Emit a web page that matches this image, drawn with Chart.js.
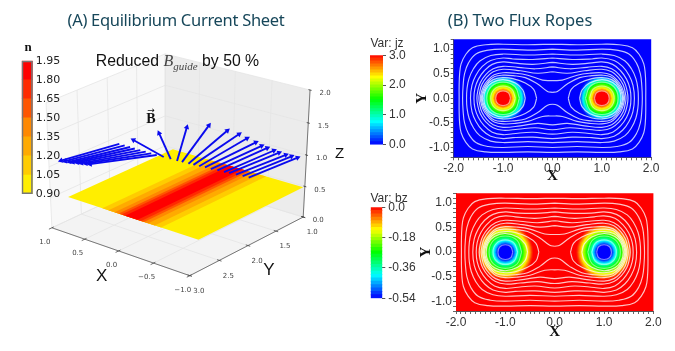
<!DOCTYPE html>
<html><head><meta charset="utf-8">
<script src="https://cdn.jsdelivr.net/npm/chart.js@4"></script>
<style>
html,body{margin:0;padding:0;background:#fff;width:675px;height:351px;overflow:hidden}
#page{position:absolute;left:0;top:0;width:675px;height:351px;filter:blur(0.35px)}
canvas{position:absolute}
.t{position:absolute;white-space:nowrap;transform:translate(-50%,-50%);line-height:1}
.title{font:16.5px "Noto Sans",sans-serif;color:#17475a}
.var{font:12px "Liberation Sans",sans-serif;color:#333;transform:translate(0,-50%)}
.bold{font:bold 13px "Liberation Serif",serif;color:#111}
</style></head><body><div id="page">
<canvas id="c3d" width="360" height="351" style="left:0;top:0"></canvas>
<canvas id="cbN" width="55" height="155" style="left:21px;top:50px"></canvas>
<canvas id="cbJ" width="50" height="110" style="left:370px;top:45px"></canvas>
<canvas id="cbB" width="60" height="112" style="left:370px;top:197px"></canvas>
<canvas id="pJ" width="252" height="156" style="left:413px;top:29px"></canvas>
<canvas id="pB" width="252" height="158" style="left:417px;top:183px"></canvas>
<div class="t title" style="left:176px;top:19px;letter-spacing:-0.3px">(A) Equilibrium Current Sheet</div>
<div class="t title" style="left:520px;top:19px">(B) Two Flux Ropes</div>
<div class="t" style="left:177.5px;top:61px;font:15.8px 'Liberation Sans',sans-serif;color:#111">Reduced <span style="font:italic 16px 'Liberation Serif',serif;color:#444">B<sub style="font-size:11px;line-height:0">guide</sub></span> by 50 %</div>
<div class="t bold" style="left:151px;top:119px;font-size:14px">B<span style="position:absolute;left:1px;top:-6px;font:9px 'DejaVu Sans'">&#8594;</span></div>
<div class="t bold" style="left:28px;top:47px">n</div>
<div class="t var" style="left:370.5px;top:43px">Var: jz</div>
<div class="t var" style="left:370.5px;top:198px">Var: bz</div>
</div>
<script>
// ---------- data ----------
const xTicks3d=[1.0,0.5,0.0,-0.5,-1.0];
const yTicks3d=[1.0,1.5,2.0,2.5,3.0];
const zTicks3d=[0.0,0.5,1.0,1.5,2.0];
const sheetX=[-1.0,0.86], sheetY=[1.03,2.86], sheetZ=0.5, sheetCentreX=-0.07;
const densityLevels=[0.90,1.05,1.20,1.35,1.50,1.65,1.80,1.95];
const densityColors=['#ffee00','#ffcc00','#ffaa00','#ff8800','#ff5500','#ff2a00','#ff0000'];
const bandHalfWidth=[0.93,0.42,0.33,0.24,0.18,0.14,0.09];
const arrowX=[-0.98,-0.90,-0.81,-0.72,-0.65,-0.56,-0.47,-0.39,-0.31,-0.23,-0.16,-0.07,0.0,0.09,0.19,0.29,0.37,0.45,0.53,0.61,0.68,0.76,0.84];
const arrowZ=[1.07,1.065,1.06,1.05,1.045,1.04,1.03,1.03,1.02,1.015,1.01,1.005,1.0,1.0,1.0,1.0,1.0,1.0,1.0,1.0,1.0,1.0,1.0];
const arrowY=2.0;
const arrowDY=[-0.865,-0.865,-0.883,-0.882,-0.881,-0.88,-0.897,-0.896,-0.84,-0.80,-0.677,-0.463,-0.166,0.198,0.508,1.103,1.084,1.066,1.047,1.03,1.01,0.991,0.973];
const arrowDZ=[-0.06,-0.06,-0.069,-0.053,-0.037,-0.021,-0.014,0.018,0.09,0.153,0.241,0.386,0.462,0.49,0.48,0.325,0.30,0.271,0.246,0.216,0.192,0.167,0.141];
const jzBarLevels=[0,0.1,0.2,0.3,0.4,0.5,0.6,0.7,0.8,0.9,1.0,1.1,1.2,1.3,1.4,1.5,1.6,1.7,1.8,1.9,2.0,2.1,2.2,2.3,2.4,2.5,2.6,2.7,2.8,2.9,3.0];
const bzBarLevels=[-0.54,-0.52,-0.50,-0.48,-0.46,-0.44,-0.42,-0.40,-0.38,-0.36,-0.34,-0.32,-0.30,-0.28,-0.26,-0.24,-0.22,-0.20,-0.18,-0.16,-0.14,-0.12,-0.10,-0.08,-0.06,-0.04,-0.02,0];
const ropeCentres=[-1,1];
const jzRingRadius=[0.46,0.44,0.42,0.40,0.38,0.36,0.34,0.32,0.30,0.28,0.26,0.24,0.22,0.20,0.18,0.16,0.14];
const jzRingValue=[0.1,0.25,0.45,0.65,0.85,1.05,1.25,1.45,1.62,1.8,1.97,2.12,2.3,2.47,2.65,2.85,3.0];
const bzRingRadius=[0.56,0.54,0.52,0.50,0.48,0.46,0.44,0.42,0.40,0.38,0.36,0.34,0.32,0.30,0.28,0.26,0.24,0.22,0.20,0.18,0.16];
const bzRingValue=[-0.016,-0.038,-0.065,-0.086,-0.113,-0.14,-0.16,-0.184,-0.205,-0.232,-0.259,-0.281,-0.302,-0.324,-0.351,-0.378,-0.405,-0.44,-0.47,-0.505,-0.54];
// flux contours enclosing both ropes: first quadrant, from x=0 to y=0
const outerContours=[
 [[0,1.10],[0.5,1.09],[1,1.10],[1.35,1.09],[1.62,1.03],[1.76,0.885],[1.85,0.7],[1.88,0.5],[1.89,0.25],[1.89,0]],
 [[0,1.0],[0.5,0.98],[1,1.0],[1.3,0.98],[1.55,0.9],[1.7,0.72],[1.78,0.5],[1.81,0.25],[1.82,0]],
 [[0,0.90],[0.5,0.88],[1,0.90],[1.25,0.87],[1.47,0.76],[1.6,0.6],[1.69,0.4],[1.73,0.2],[1.74,0]],
 [[0,0.82],[0.4,0.79],[0.8,0.80],[1,0.82],[1.25,0.77],[1.42,0.65],[1.55,0.47],[1.63,0.27],[1.66,0]],
 [[0,0.73],[0.4,0.69],[0.8,0.72],[1,0.74],[1.22,0.69],[1.38,0.56],[1.5,0.39],[1.57,0.2],[1.59,0]],
 [[0,0.64],[0.35,0.60],[0.7,0.63],[1,0.65],[1.2,0.6],[1.35,0.48],[1.46,0.32],[1.51,0.16],[1.53,0]],
 [[0,0.54],[0.3,0.51],[0.65,0.56],[1,0.59],[1.2,0.54],[1.33,0.43],[1.43,0.28],[1.47,0.14],[1.49,0]],
 [[0,0.36],[0.2,0.37],[0.5,0.47],[0.75,0.51],[1,0.52],[1.18,0.48],[1.3,0.38],[1.4,0.24],[1.46,0]],
 [[0,0.12],[0.1,0.14],[0.3,0.29],[0.55,0.42],[0.8,0.46],[1,0.47],[1.18,0.44],[1.3,0.34],[1.39,0.2],[1.44,0]]
];
// flux contours closed round one rope: upper half, inner side to outer side
const ropeContours=[
 [[0.32,0],[0.38,0.18],[0.55,0.31],[0.8,0.40],[1,0.42],[1.2,0.38],[1.33,0.26],[1.42,0]],
 [[0.55,0],[0.6,0.17],[0.75,0.31],[1,0.38],[1.22,0.32],[1.35,0.18],[1.39,0]],
 [[0.67,0],[0.76,0.24],[1,0.33],[1.24,0.24],[1.33,0]],
 [[0.75,0],[0.82,0.18],[1,0.25],[1.18,0.18],[1.25,0]],
 [[0.85,0],[0.89,0.11],[1,0.15],[1.11,0.11],[1.15,0]]
];
// ---------- view of the 3D box (box corners as seen on the page) ----------
const floorView={back:[165,175],right:[306,218],front:[190,278],left:[49,229]};
const topView={right:[313,88],left:[43,85]};
const H=(()=>{const [x0,y0]=floorView.back,[x1,y1]=floorView.right,[x2,y2]=floorView.front,[x3,y3]=floorView.left;
 const dx1=x1-x2,dx2=x3-x2,dy1=y1-y2,dy2=y3-y2,sx=x0-x1+x2-x3,sy=y0-y1+y2-y3,det=dx1*dy2-dx2*dy1;
 const g=(sx*dy2-dx2*sy)/det,h=(dx1*sy-sx*dy1)/det;
 const wr=1+g,wl=1+h,zw=-((topView.right[0]-x1)*wr+(x3-topView.left[0])*wl)/(topView.right[0]-topView.left[0]);
 return {A:x1-x0+g*x1,B:x3-x0+h*x3,C:x0,D:y1-y0+g*y1,E:y3-y0+h*y3,F:y0,g,h,zw,
  zx:topView.right[0]*(wr+zw)-x1*wr,zy:topView.right[1]*(wr+zw)-y1*wr};})();
function project(X,Y,Z){const a=(1-X)/2,b=(Y-1)/2,c=Z/2,w=H.g*a+H.h*b+1+c*H.zw;
 return {x:(H.A*a+H.B*b+H.C+c*H.zx)/w,y:(H.D*a+H.E*b+H.F+c*H.zy)/w};}
const hsvRainbow=t=>{const s=[[0,0,255],[0,255,255],[0,255,0],[255,255,0],[255,0,0]];
 t=Math.max(0,Math.min(1,t))*4;const i=Math.min(3,Math.floor(t)),f=t-i;
 return 'rgb('+s[i].map((v,k)=>Math.round(v+(s[i+1][k]-v)*f)).join(',')+')';};
// ---------- plugins ----------
const polygonPlugin={id:'polygonPlugin',beforeDatasetDraw(chart,args){
 const ds=chart.data.datasets[args.index];if(!ds.polygonFill)return;
 const pts=chart.getDatasetMeta(args.index).data,ctx=chart.ctx;ctx.save();ctx.beginPath();
 pts.forEach((p,i)=>i?ctx.lineTo(p.x,p.y):ctx.moveTo(p.x,p.y));ctx.closePath();ctx.fillStyle=ds.polygonFill;ctx.fill();ctx.restore();}};
const textPlugin={id:'viewText',afterDatasetsDraw(chart,args,opts){
 const ctx=chart.ctx;ctx.save();ctx.textAlign='center';ctx.textBaseline='middle';
 (opts.items||[]).forEach(it=>{ctx.font=it.font;ctx.fillStyle=it.color;
  ctx.fillText(it.text,chart.scales.x.getPixelForValue(it.x)+(it.dx||0),chart.scales.y.getPixelForValue(it.y)+(it.dy||0));});
 ctx.restore();}};
Chart.register(polygonPlugin,textPlugin);
const base={responsive:false,animation:false,events:[],devicePixelRatio:1,plugins:{legend:{display:false},tooltip:{enabled:false}}};
// ---------- 3D panel ----------
const ds3=[];
const poly=(pts,fill)=>ds3.push({polygonFill:fill,data:pts,showLine:false,pointRadius:0,clip:false});
const seg=(pts,color,width)=>ds3.push({data:pts,showLine:true,borderColor:color,borderWidth:width,pointRadius:0,tension:0,clip:false});
poly([project(1,1,0),project(1,3,0),project(1,3,2),project(1,1,2)],'#f8f8f8');
poly([project(1,1,0),project(-1,1,0),project(-1,1,2),project(1,1,2)],'#ececec');
poly([project(1,1,0),project(-1,1,0),project(-1,3,0),project(1,3,0)],'#f3f3f3');
const gridC='#e4e4e4';
xTicks3d.forEach(x=>{seg([project(x,3,0),project(x,1,0),project(x,1,2)],gridC,0.8);});
yTicks3d.forEach(y=>{seg([project(-1,y,0),project(1,y,0),project(1,y,2)],gridC,0.8);});
zTicks3d.forEach(z=>{seg([project(1,3,z),project(1,1,z),project(-1,1,z)],gridC,0.8);});
const axisC='#777';
seg([project(1,3,0),project(-1,3,0),project(-1,1,0),project(-1,1,2)],axisC,1);
xTicks3d.forEach(x=>seg([project(x,2.97,0),project(x,3.05,0)],'#444',0.8));
yTicks3d.forEach(y=>seg([project(-1.03,y,0),project(-0.97,y,0)],'#444',0.8));
zTicks3d.forEach(z=>seg([project(-1.02,1,z),project(-0.98,1,z)],'#333',0.8));
bandHalfWidth.forEach((w,i)=>{const lo=Math.max(sheetX[0],sheetCentreX-w),hi=Math.min(sheetX[1],sheetCentreX+w);
 poly([project(hi,sheetY[0],sheetZ),project(lo,sheetY[0],sheetZ),project(lo,sheetY[1],sheetZ),project(hi,sheetY[1],sheetZ)],densityColors[i]);});
arrowX.forEach((x,i)=>{const p0=project(x,arrowY,arrowZ[i]),p1=project(x,arrowY+arrowDY[i],arrowZ[i]+arrowDZ[i]);
 const ang=Math.atan2(p1.x-p0.x,-(p1.y-p0.y))*180/Math.PI;
 ds3.push({data:[p0,p1],showLine:true,borderColor:'#0a0aee',borderWidth:1.9,tension:0,clip:false,
  pointRadius:[0,3.2],pointStyle:'triangle',pointRotation:[0,ang],pointBackgroundColor:'#0a0aee',pointBorderWidth:0});});
const tickFont='7px "DejaVu Sans"',tickCol='#444';
const items3=[];
const fmt=v=>v.toFixed(1).replace('-','\u2212');
xTicks3d.forEach(x=>{const p=project(x,3,0);items3.push({x:p.x,y:p.y,dx:-7,dy:14.5,text:fmt(x),font:tickFont,color:tickCol});});
yTicks3d.forEach(y=>{const p=project(-1,y,0);items3.push({x:p.x,y:p.y,dx:9,dy:15.5,text:fmt(y),font:tickFont,color:tickCol});});
zTicks3d.forEach(z=>{const p=project(-1,1,z);items3.push({x:p.x,y:p.y,dx:15,dy:3.5,text:fmt(z),font:tickFont,color:tickCol});});
const pX=project(0,3,0),pY=project(-1,2,0),pZ=project(-1,1,1);
items3.push({x:pX.x,y:pX.y,dx:-17,dy:25,text:'X',font:'17px "Liberation Sans"',color:'#111'});
items3.push({x:pY.x,y:pY.y,dx:21,dy:25,text:'Y',font:'17px "Liberation Sans"',color:'#111'});
items3.push({x:pZ.x,y:pZ.y,dx:33,dy:-1,text:'Z',font:'15px "Liberation Sans"',color:'#111'});
new Chart(document.getElementById('c3d'),{type:'scatter',data:{datasets:ds3.reverse()},options:{...base,layout:{padding:0},
 plugins:{...base.plugins,viewText:{items:items3}},
 scales:{x:{type:'linear',min:0,max:360,display:false},y:{type:'linear',min:0,max:351,reverse:true,display:false}}}});
// ---------- colour bars ----------
function colorBar(id,levels,colors,pad,axisW,tick,step,fmtTick,font,tickLen,col,border){
 const sets=[];
 if(border)sets.push({data:[[levels[0],levels[levels.length-1]]],backgroundColor:'rgba(0,0,0,0)',borderColor:border,borderWidth:1.2,borderSkipped:false,grouped:false,barPercentage:1,categoryPercentage:1});
 for(let i=0;i<levels.length-1;i++)sets.push({data:[[levels[i],levels[i+1]+(border?0:(levels[levels.length-1]-levels[0])/300)]],backgroundColor:colors(i),borderWidth:0,grouped:false,barPercentage:1,categoryPercentage:1});
 return new Chart(document.getElementById(id),{type:'bar',data:{labels:['c'],datasets:sets},options:{...base,layout:{padding:pad},
  scales:{x:{display:false},y:{position:'right',min:levels[0],max:levels[levels.length-1],afterFit(s){s.width=axisW;},
   afterBuildTicks(s){s.ticks=tick.map(v=>({value:v}));},
   border:{display:false},grid:{drawOnChartArea:false,drawTicks:tickLen>0,tickLength:tickLen,color:'#555'},
   ticks:{font:font,color:col,padding:3,callback:fmtTick,autoSkip:false,maxRotation:0}}}}});
}
colorBar('cbN',densityLevels,i=>densityColors[i],{left:0.7,top:10.7,bottom:11},43.3,densityLevels,0.15,v=>(+v).toFixed(2),{family:'DejaVu Sans',size:11},0,'#222','#777');
colorBar('cbJ',jzBarLevels,i=>hsvRainbow((jzBarLevels[i]+0.05)/3),{top:10,bottom:9.3},37,[0,1,2,3],1,v=>(+v).toFixed(1),{family:'Liberation Sans',size:12},3,'#333');
colorBar('cbB',bzBarLevels,i=>hsvRainbow((bzBarLevels[i]+0.01+0.54)/0.54),{left:0.7,top:10.3,bottom:10.7},47.7,[-0.54,-0.36,-0.18,0],0.18,v=>v===0?'0.0':(+v).toFixed(2),{family:'Liberation Sans',size:12},3,'#333');
// ---------- field panels ----------
function loopOuter(q){const sw=q.map(p=>[p[0],-p[1]]).reverse().slice(1);
 const right=q.concat(sw);const left=right.map(p=>[-p[0],p[1]]).reverse().slice(1);
 return right.concat(left).map(p=>({x:p[0],y:p[1]}));}
function loopRope(u,sgn){const low=u.map(p=>[p[0],-p[1]]).reverse().slice(1);
 return u.concat(low).map(p=>({x:sgn*p[0],y:p[1]}));}
function fieldPanel(id,bg,ringR,ringColor,lineCol,innerCol,plotPad,leftW,bottomH){
 const sets=[];
 sets.push({polygonFill:bg,data:[{x:-2,y:-1.2},{x:2,y:-1.2},{x:2,y:1.2},{x:-2,y:1.2}],showLine:false,pointRadius:0});
 ropeCentres.forEach(c=>sets.push({data:ringR.map(()=>({x:c,y:0})),showLine:false,pointStyle:'circle',pointBorderWidth:0,
  pointRadius:ctx=>ringR[ctx.dataIndex]*(ctx.chart.scales.x.getPixelForValue(1)-ctx.chart.scales.x.getPixelForValue(0)),
  pointBackgroundColor:ctx=>ringColor(ctx.dataIndex)}));
 const line=(d,col)=>sets.push({data:d,showLine:true,borderColor:col,borderWidth:1.15,pointRadius:0,tension:0.4});
 outerContours.forEach(q=>line(loopOuter(q),lineCol));
 ropeCentres.forEach(c=>ropeContours.forEach((u,i)=>line(loopRope(u,c),i<2?lineCol:innerCol)));
 const fine=(v,k)=>Math.abs(v*10/k-Math.round(v*10/k))<1e-6;
 const titleFont={family:'Liberation Serif',size:15,weight:'bold'};
 new Chart(document.getElementById(id),{type:'scatter',data:{datasets:sets.reverse()},options:{...base,layout:{padding:plotPad},
  scales:{
   x:{type:'linear',min:-2,max:2,afterFit(s){s.height=bottomH;},border:{color:'#555'},
    grid:{drawOnChartArea:false,tickLength:3,color:'#666'},
    title:{display:true,text:'X',font:titleFont,color:'#111',padding:0},
    ticks:{stepSize:0.1,autoSkip:false,maxRotation:0,padding:1,color:'#333',font:{family:'Liberation Sans',size:12},callback:v=>fine(v,10)?(+v).toFixed(1):''}},
   y:{type:'linear',min:-1.2,max:1.2,afterFit(s){s.width=leftW;},border:{color:'#555'},
    grid:{drawOnChartArea:false,tickLength:3,color:'#666'},
    title:{display:true,text:'Y',font:titleFont,color:'#111',padding:0},
    ticks:{stepSize:0.1,autoSkip:false,padding:1,color:'#333',font:{family:'Liberation Sans',size:12},callback:v=>fine(v,5)?(+v).toFixed(1):''}}}}});
}
fieldPanel('pJ','#0000ff',jzRingRadius,i=>hsvRainbow(jzRingValue[i]/3),'rgba(232,238,255,0.82)','rgba(255,255,255,0.5)',{top:10.3,right:13.8},40.7,27.7);
fieldPanel('pB','#ff0000',bzRingRadius,i=>hsvRainbow((bzRingValue[i]+0.54)/0.54),'rgba(255,238,238,0.82)','rgba(255,255,255,0.5)',{top:10.3,right:15.6},39,30);
</script></body></html>
